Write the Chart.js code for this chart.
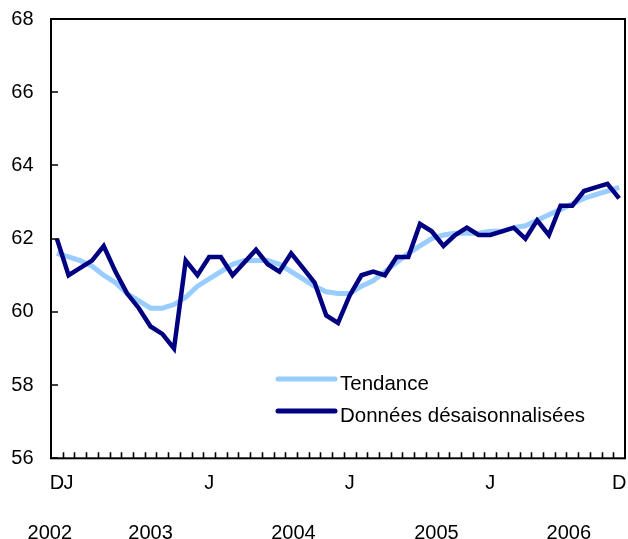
<!DOCTYPE html>
<html>
<head>
<meta charset="utf-8">
<script src="https://cdn.jsdelivr.net/npm/chart.js@4/dist/chart.umd.min.js"></script>
<style>
  html, body { margin: 0; padding: 0; background: #fff; }
  #wrap { width: 628px; height: 539px; position: relative; }
</style>
</head>
<body>
<div id="wrap"><canvas id="c"></canvas></div>
<script>
// Categories: months from December 2002 to December 2006
const categories = [
  '2002-12',
  '2003-01','2003-02','2003-03','2003-04','2003-05','2003-06','2003-07','2003-08','2003-09','2003-10','2003-11','2003-12',
  '2004-01','2004-02','2004-03','2004-04','2004-05','2004-06','2004-07','2004-08','2004-09','2004-10','2004-11','2004-12',
  '2005-01','2005-02','2005-03','2005-04','2005-05','2005-06','2005-07','2005-08','2005-09','2005-10','2005-11','2005-12',
  '2006-01','2006-02','2006-03','2006-04','2006-05','2006-06','2006-07','2006-08','2006-09','2006-10','2006-11','2006-12'
];

// Month tick labels shown under the axis
const monthTickLabels = [
  'D',
  'J','','','','','','','','','','','',
  'J','','','','','','','','','','','',
  'J','','','','','','','','','','','',
  'J','','','','','','','','','','','D'
];

// Year labels (second row)
const yearLabels = ['2002', '2003', '2004', '2005', '2006'];

// Series
const trendLabel = 'Tendance';
const trendValues = [
  61.6,
  61.5, 61.4, 61.25, 61.0, 60.8, 60.5, 60.3, 60.1, 60.1, 60.2, 60.4, 60.7,
  60.9, 61.1, 61.3, 61.4, 61.4, 61.4, 61.3, 61.1, 60.9, 60.7, 60.55, 60.5,
  60.5, 60.7, 60.85, 61.1, 61.35, 61.6, 61.8, 62.0, 62.1, 62.15, 62.15, 62.15,
  62.2, 62.2, 62.3, 62.35, 62.5, 62.65, 62.8, 62.95, 63.1, 63.2, 63.3, 63.4
];

const sadjLabel = 'Données désaisonnalisées';
const sadjValues = [
  62.0,
  61.0, 61.2, 61.4, 61.8, 61.1, 60.5, 60.1, 59.6, 59.4, 59.0, 61.4, 61.0,
  61.5, 61.5, 61.0, 61.35, 61.7, 61.3, 61.1, 61.6, 61.2, 60.8, 59.9, 59.7,
  60.45, 61.0, 61.1, 61.0, 61.5, 61.5, 62.4, 62.2, 61.8, 62.1, 62.3, 62.1,
  62.1, 62.2, 62.3, 62.0, 62.5, 62.1, 62.9, 62.9, 63.3, 63.4, 63.5, 63.1
];

// Y axis ticks
const yTicks = [56, 58, 60, 62, 64, 66, 68];

const FONT = '"Liberation Sans", Arial, Helvetica, sans-serif';
const yearAnchor = [-0.6, 8, 20.2, 32.4, 43.7];

const framePlugin = {
  id: 'frame',
  afterDraw(chart) {
    const ctx = chart.ctx;
    const a = chart.chartArea;
    const xs = chart.scales.x, ys = chart.scales.y;
    ctx.save();
    ctx.strokeStyle = '#000';
    // x ticks at month boundaries (inward)
    ctx.lineWidth = 1.6;
    ctx.beginPath();
    for (let i = 0; i < categories.length - 1; i++) {
      const px = Math.round(xs.getPixelForValue(i + 0.5)) + 0.5;
      ctx.moveTo(px, a.bottom);
      ctx.lineTo(px, a.bottom - 6);
    }
    // y ticks (inward)
    yTicks.forEach(v => {
      const py = Math.round(ys.getPixelForValue(v));
      ctx.moveTo(a.left, py);
      ctx.lineTo(a.left + 7, py);
    });
    ctx.stroke();
    // frame
    ctx.lineWidth = 2;
    ctx.strokeRect(a.left, a.top, a.right - a.left, a.bottom - a.top);
    // year labels
    ctx.fillStyle = '#000';
    ctx.font = '20px ' + FONT;
    ctx.textAlign = 'center';
    ctx.textBaseline = 'alphabetic';
    yearLabels.forEach((t, k) => {
      ctx.fillText(t, xs.getPixelForValue(yearAnchor[k]), 538.5);
    });
    // legend
    const lx0 = 278, lx1 = 335, tx = 340;
    const rows = [{y: 379, base: 390}, {y: 411, base: 421.7}];
    ctx.textAlign = 'left';
    ctx.font = '20.5px ' + FONT;
    chart.data.datasets.forEach((ds, k) => {
      ctx.strokeStyle = ds.borderColor;
      ctx.lineWidth = 5;
      ctx.lineCap = 'round';
      ctx.beginPath();
      ctx.moveTo(lx0, rows[k].y);
      ctx.lineTo(lx1, rows[k].y);
      ctx.stroke();
      ctx.fillText(ds.label, tx, rows[k].base);
    });
    ctx.restore();
  }
};

new Chart(document.getElementById('c'), {
  type: 'line',
  data: {
    labels: categories,
    datasets: [
      {
        label: trendLabel,
        data: trendValues,
        borderColor: '#99ccff',
        borderWidth: 5,
        pointRadius: 0,
        tension: 0,
        fill: false,
        order: 2
      },
      {
        label: sadjLabel,
        data: sadjValues,
        borderColor: '#000080',
        borderWidth: 4.5,
        pointRadius: 0,
        tension: 0,
        fill: false,
        order: 1
      }
    ]
  },
  options: {
    responsive: true,
    maintainAspectRatio: false,
    animation: false,
    devicePixelRatio: 1,
    layout: { padding: { top: 19, right: 3, left: 0, bottom: 0 } },
    plugins: { legend: { display: false }, tooltip: { enabled: false } },
    scales: {
      x: {
        type: 'category',
        offset: true,
        grid: { display: false, drawTicks: false },
        border: { display: false },
        afterFit(s) { s.height = 80.7; s.paddingLeft = 0; s.paddingRight = 0; },
        ticks: {
          autoSkip: false,
          maxRotation: 0,
          minRotation: 0,
          padding: 13,
          color: '#000',
          font: { family: FONT, size: 20, lineHeight: 1.2 },
          callback: (v, i) => monthTickLabels[i]
        }
      },
      y: {
        min: 56,
        max: 68,
        grid: { display: false, drawTicks: false },
        border: { display: false },
        afterFit(s) { s.width = 51; s.paddingTop = 0; s.paddingBottom = 0; },
        afterBuildTicks(s) { s.ticks = yTicks.map(v => ({ value: v })); },
        ticks: {
          padding: 17.5,
          color: '#000',
          font: { family: FONT, size: 20 }
        }
      }
    }
  },
  plugins: [framePlugin]
});
</script>
</body>
</html>
